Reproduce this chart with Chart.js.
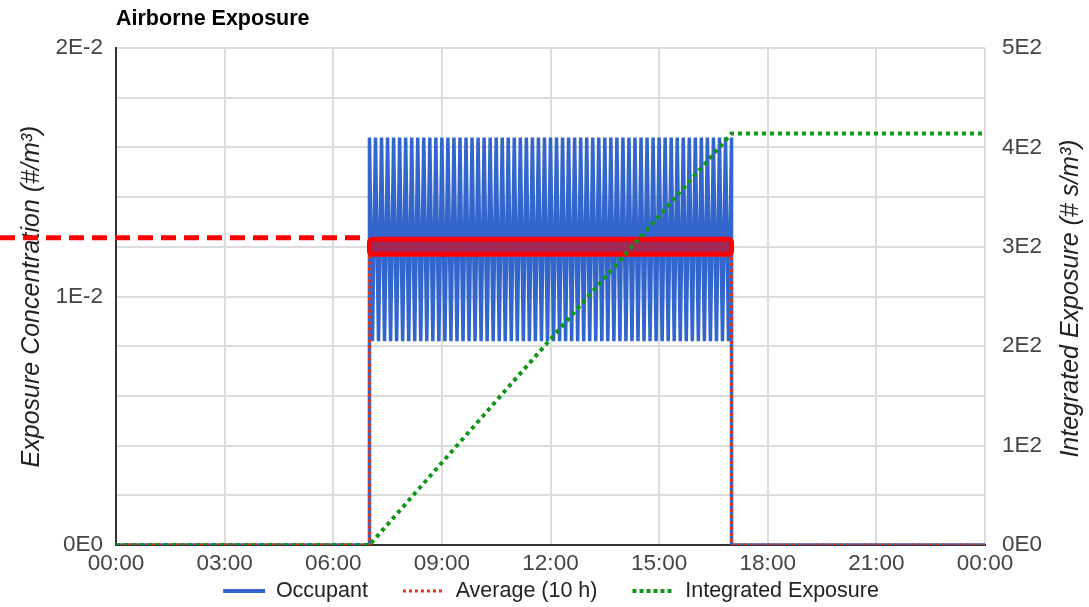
<!DOCTYPE html>
<html>
<head>
<meta charset="utf-8">
<script src="https://cdn.jsdelivr.net/npm/chart.js@4.4.1/dist/chart.umd.min.js"></script>
<style>
html, body { margin: 0; padding: 0; background: #ffffff; }
#wrap { width: 1089px; height: 607px; position: relative; }
</style>
</head>
<body>
<div id="wrap"><canvas id="c" width="1089" height="607"></canvas></div>
<script>
// ---------- data ----------
const titleText = 'Airborne Exposure';
const leftAxisTitle = 'Exposure Concentration (#/m³)';
const rightAxisTitle = 'Integrated Exposure (# s/m³)';
const seriesNames = ['Occupant', 'Average (10 h)', 'Integrated Exposure'];
const xTickLabels = ['00:00', '03:00', '06:00', '09:00', '12:00', '15:00', '18:00', '21:00', '00:00'];
const leftTickValues = [0, 0.01, 0.02];
const leftTickLabels = ['0E0', '1E-2', '2E-2'];
const rightTickLabels = ['0E0', '1E2', '2E2', '3E2', '4E2', '5E2'];

// time in minutes after 00:00
const occupantTimes = [0, 420,
  420, 425, 430, 435, 440, 445, 450, 455, 460, 465, 470, 475,
  480, 485, 490, 495, 500, 505, 510, 515, 520, 525, 530, 535,
  540, 545, 550, 555, 560, 565, 570, 575, 580, 585, 590, 595,
  600, 605, 610, 615, 620, 625, 630, 635, 640, 645, 650, 655,
  660, 665, 670, 675, 680, 685, 690, 695, 700, 705, 710, 715,
  720, 725, 730, 735, 740, 745, 750, 755, 760, 765, 770, 775,
  780, 785, 790, 795, 800, 805, 810, 815, 820, 825, 830, 835,
  840, 845, 850, 855, 860, 865, 870, 875, 880, 885, 890, 895,
  900, 905, 910, 915, 920, 925, 930, 935, 940, 945, 950, 955,
  960, 965, 970, 975, 980, 985, 990, 995, 1000, 1005, 1010, 1015,
  1020,
  1020, 1440];
const occupantValues = [0, 0,
  0.0164, 0.0082, 0.0164, 0.0082, 0.0164, 0.0082, 0.0164, 0.0082, 0.0164, 0.0082, 0.0164, 0.0082,
  0.0164, 0.0082, 0.0164, 0.0082, 0.0164, 0.0082, 0.0164, 0.0082, 0.0164, 0.0082, 0.0164, 0.0082,
  0.0164, 0.0082, 0.0164, 0.0082, 0.0164, 0.0082, 0.0164, 0.0082, 0.0164, 0.0082, 0.0164, 0.0082,
  0.0164, 0.0082, 0.0164, 0.0082, 0.0164, 0.0082, 0.0164, 0.0082, 0.0164, 0.0082, 0.0164, 0.0082,
  0.0164, 0.0082, 0.0164, 0.0082, 0.0164, 0.0082, 0.0164, 0.0082, 0.0164, 0.0082, 0.0164, 0.0082,
  0.0164, 0.0082, 0.0164, 0.0082, 0.0164, 0.0082, 0.0164, 0.0082, 0.0164, 0.0082, 0.0164, 0.0082,
  0.0164, 0.0082, 0.0164, 0.0082, 0.0164, 0.0082, 0.0164, 0.0082, 0.0164, 0.0082, 0.0164, 0.0082,
  0.0164, 0.0082, 0.0164, 0.0082, 0.0164, 0.0082, 0.0164, 0.0082, 0.0164, 0.0082, 0.0164, 0.0082,
  0.0164, 0.0082, 0.0164, 0.0082, 0.0164, 0.0082, 0.0164, 0.0082, 0.0164, 0.0082, 0.0164, 0.0082,
  0.0164, 0.0082, 0.0164, 0.0082, 0.0164, 0.0082, 0.0164, 0.0082, 0.0164, 0.0082, 0.0164, 0.0082,
  0.0164,
  0, 0];
const averageTimes = [0, 420, 420, 1020, 1020, 1440];
const averageValues = [0, 0, 0.012, 0.012, 0, 0];
const integratedTimes = [0, 420, 1020, 1440];
const integratedValues = [0, 0, 414, 414];
// highlighted average band
const highlightStart = 420;
const highlightEnd = 1020;
const highlightValue = 0.012;

// ---------- styles ----------
const FONT = '"Liberation Sans", Arial, Helvetica, sans-serif';
const occColor = '#3366cc';
const avgColor = '#e0341a';
const intColor = '#109618';
const gridColor = '#dcdcdc';

function toPoints(xs, ys) { return xs.map((x, i) => ({ x: x, y: ys[i] })); }

const overlay = {
  id: 'overlay',
  afterLayout(chart) {
    const ca = chart.chartArea;
    if (chart.titleBlock) {
      const w = chart.titleBlock.right - chart.titleBlock.left;
      chart.titleBlock.left = ca.left;
      chart.titleBlock.right = ca.left + w;
    }
    const lg = chart.legend;
    if (lg) {
      const lo = lg.options.labels;
      lg.top = 591 - lo.padding - lo.font.size / 2;
      lg.left = 6.5;
      lg.right = 1089 + 6.5;
    }
  },
  beforeDatasetDraw(chart, args) {
    if (args.index !== 2) return;
    const xs = chart.scales.x, ys = chart.scales.y;
    const x0 = xs.getPixelForValue(highlightStart);
    const x1 = xs.getPixelForValue(highlightEnd);
    const cy = ys.getPixelForValue(highlightValue);
    const ctx = chart.ctx;
    ctx.save();
    ctx.strokeStyle = '#ff0000';
    ctx.lineWidth = 5;
    ctx.setLineDash([15, 8]);
    ctx.beginPath();
    ctx.moveTo(0, cy - 9);
    ctx.lineTo(x0 - 2, cy - 9);
    ctx.stroke();
    ctx.setLineDash([]);
    ctx.beginPath();
    if (ctx.roundRect) ctx.roundRect(x0, cy - 7.5, x1 - x0, 15, 3);
    else ctx.rect(x0, cy - 7.5, x1 - x0, 15);
    ctx.fillStyle = 'rgba(166,38,82,0.93)';
    ctx.fill();
    ctx.lineWidth = 5;
    ctx.stroke();
    ctx.restore();
  },
  afterDraw(chart) {
    const ca = chart.chartArea;
    const ctx = chart.ctx;
    ctx.save();
    ctx.font = 'italic 25px ' + FONT;
    ctx.fillStyle = '#222222';
    ctx.textAlign = 'center';
    ctx.textBaseline = 'middle';
    ctx.translate(1071, (ca.top + ca.bottom) / 2 + 2);
    ctx.rotate(-Math.PI / 2);
    ctx.fillText(rightAxisTitle, 0, 0);
    ctx.restore();
  }
};

new Chart(document.getElementById('c'), {
  type: 'line',
  data: {
    datasets: [
      {
        label: seriesNames[0],
        data: toPoints(occupantTimes, occupantValues),
        borderColor: occColor,
        backgroundColor: occColor,
        borderWidth: 3.5,
        pointRadius: 0,
        tension: 0,
        yAxisID: 'y',
        order: 3
      },
      {
        label: seriesNames[1],
        data: toPoints(averageTimes, averageValues),
        borderColor: avgColor,
        backgroundColor: avgColor,
        borderWidth: 3,
        borderDash: [3, 3],
        pointRadius: 0,
        tension: 0,
        yAxisID: 'y',
        order: 2
      },
      {
        label: seriesNames[2],
        data: toPoints(integratedTimes, integratedValues),
        borderColor: intColor,
        backgroundColor: intColor,
        borderWidth: 4,
        borderDash: [4, 4],
        pointRadius: 0,
        tension: 0,
        yAxisID: 'y2',
        order: 1
      }
    ]
  },
  options: {
    responsive: false,
    animation: false,
    devicePixelRatio: 1,
    layout: { padding: 0 },
    font: { family: FONT },
    plugins: {
      title: {
        display: true,
        text: titleText,
        align: 'start',
        color: '#000000',
        font: { family: FONT, size: 21.5, weight: 'bold' },
        padding: { top: 6, bottom: 16.2 }
      },
      legend: {
        display: true,
        position: 'bottom',
        maxHeight: 30,
        labels: {
          usePointStyle: true,
          pointStyleWidth: 42,
          boxHeight: 10,
          padding: 35,
          color: '#222222',
          font: { family: FONT, size: 21.5 },
          generateLabels: () => [
            { text: seriesNames[0], strokeStyle: occColor, fillStyle: occColor, lineWidth: 4, lineDash: [], pointStyle: 'line', fontColor: '#222222', datasetIndex: 0, hidden: false },
            { text: seriesNames[1], strokeStyle: avgColor, fillStyle: avgColor, lineWidth: 3, lineDash: [3, 3], pointStyle: 'line', fontColor: '#222222', datasetIndex: 1, hidden: false },
            { text: seriesNames[2], strokeStyle: intColor, fillStyle: intColor, lineWidth: 4, lineDash: [4, 3], pointStyle: 'line', fontColor: '#222222', datasetIndex: 2, hidden: false }
          ]
        }
      },
      tooltip: { enabled: false }
    },
    scales: {
      x: {
        type: 'linear',
        min: 0,
        max: 1440,
        afterFit: (s) => { s.height = 32; },
        grid: {
          color: (c) => (c.tick && c.tick.value === 0 ? 'rgba(0,0,0,0)' : gridColor),
          lineWidth: 2,
          drawTicks: false
        },
        border: { display: true, color: '#333333', width: 2 },
        ticks: {
          stepSize: 180,
          autoSkip: false,
          maxRotation: 0,
          padding: 5,
          color: '#444444',
          font: { family: FONT, size: 22.5 },
          callback: (v) => xTickLabels[Math.round(v / 180)]
        }
      },
      y: {
        type: 'linear',
        position: 'left',
        min: 0,
        max: 0.02,
        afterFit: (s) => { s.width = 116; },
        grid: {
          color: (c) => (c.tick && Math.abs(c.tick.value) < 1e-12 ? 'rgba(0,0,0,0)' : gridColor),
          lineWidth: 2,
          drawTicks: false
        },
        border: { display: true, color: '#333333', width: 2 },
        title: {
          display: true,
          text: leftAxisTitle,
          color: '#222222',
          font: { family: FONT, size: 25, style: 'italic' },
          padding: { top: 17, bottom: 0 }
        },
        ticks: {
          stepSize: 0.002,
          autoSkip: false,
          padding: 13,
          color: '#444444',
          font: { family: FONT, size: 22.5 },
          callback: (v) => {
            const i = leftTickValues.findIndex((t) => Math.abs(t - v) < 1e-9);
            return i >= 0 ? leftTickLabels[i] : '';
          }
        }
      },
      y2: {
        type: 'linear',
        position: 'right',
        min: 0,
        max: 500,
        afterFit: (s) => { s.width = 104; },
        grid: { display: false, drawOnChartArea: false, drawTicks: false },
        border: { display: false },
        ticks: {
          stepSize: 100,
          autoSkip: false,
          padding: 17,
          color: '#444444',
          font: { family: FONT, size: 22.5 },
          callback: (v) => rightTickLabels[Math.round(v / 100)]
        }
      }
    }
  },
  plugins: [overlay]
});
</script>
</body>
</html>
